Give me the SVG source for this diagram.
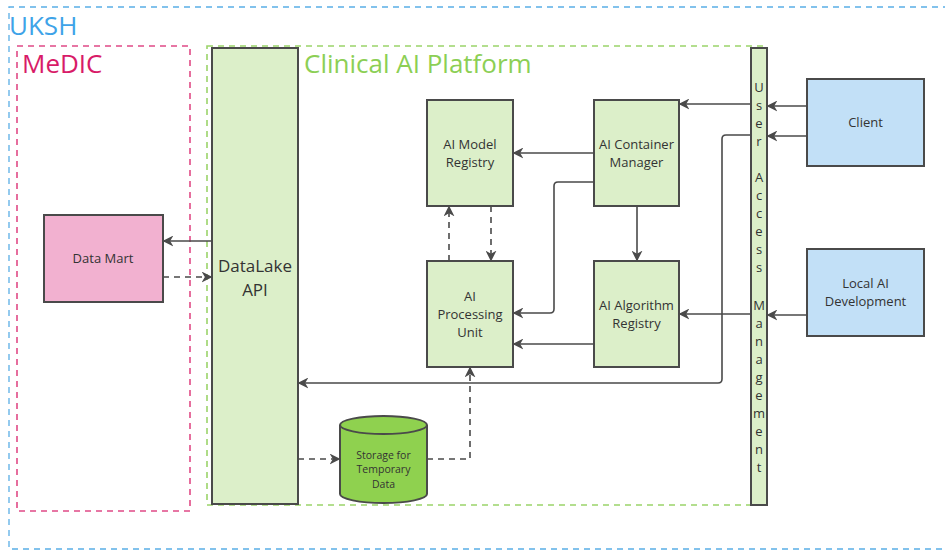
<svg xmlns="http://www.w3.org/2000/svg" width="945" height="551" viewBox="0 0 945 551">
<style>
text{font-family:"Open Sans","Noto Sans","Liberation Sans",sans-serif;fill:#333}
.node{stroke:#4a4a4a;stroke-width:2}
.green{fill:#dcefc9}
.blue{fill:#c2e0f7}
.pink{fill:#f2b1d0}
.lbl{font-size:13px;text-anchor:middle}
.conn{fill:none;stroke:#4a4a4a;stroke-width:1.6}
.dash{stroke-dasharray:6 5}
.title{font-size:26px}
.uam{font-size:13px;text-anchor:middle}
</style>
<defs>
<marker id="arr" viewBox="0 0 10 10" refX="9.5" refY="5" markerWidth="11" markerHeight="11" markerUnits="userSpaceOnUse" orient="auto">
<path d="M0,0 L10,5 L0,10 L3,5 z" fill="#4a4a4a"/>
</marker>
</defs>
<rect width="945" height="551" fill="#fff"/>
<g id="frame-uksh">
<path d="M960,7 H9 V549 H960" fill="none" stroke="#5aaee6" stroke-width="1.3" stroke-dasharray="6 5"/>
<text x="9" y="35" class="title" style="fill:#3ea3e8">UKSH</text>
</g>
<g id="frame-medic">
<rect x="17" y="46" width="173" height="465" fill="none" stroke="#e04a86" stroke-width="1.6" stroke-dasharray="6 5"/>
<text x="22" y="73" class="title" style="fill:#d81b68">MeDIC</text>
</g>
<g id="frame-platform">
<rect x="207" y="46" width="560" height="459" fill="none" stroke="#9bd46a" stroke-width="1.6" stroke-dasharray="6 5"/>
<text x="304" y="73" class="title" style="fill:#8ccf55">Clinical AI Platform</text>
</g>
<g id="datalake-api">
<rect x="212" y="48" width="86" height="456" class="node green"/>
<text x="255" y="272" style="font-size:17px;text-anchor:middle">DataLake</text>
<text x="255" y="296" style="font-size:17px;text-anchor:middle">API</text>
</g>
<g id="data-mart">
<rect x="44" y="215" width="119" height="87" class="node pink"/>
<text x="103" y="263" class="lbl">Data Mart</text>
</g>
<g id="ai-model-registry">
<rect x="427" y="100" width="86" height="106" class="node green"/>
<text x="470" y="149" class="lbl">AI Model</text>
<text x="470" y="167" class="lbl">Registry</text>
</g>
<g id="ai-container-manager">
<rect x="594" y="100" width="85" height="106" class="node green"/>
<text x="636.5" y="149" class="lbl">AI Container</text>
<text x="636.5" y="167" class="lbl">Manager</text>
</g>
<g id="ai-processing-unit">
<rect x="427" y="261" width="86" height="106" class="node green"/>
<text x="470" y="301" class="lbl">AI</text>
<text x="470" y="319" class="lbl">Processing</text>
<text x="470" y="337" class="lbl">Unit</text>
</g>
<g id="ai-algorithm-registry">
<rect x="594" y="261" width="85" height="106" class="node green"/>
<text x="636.5" y="310" class="lbl">AI Algorithm</text>
<text x="636.5" y="328" class="lbl">Registry</text>
</g>
<g id="storage">
<path d="M340,425 V494 A43.5,9 0 0 0 427,494 V425 A43.5,9 0 0 0 340,425 Z" fill="#8fd14f" stroke="#4a4a4a" stroke-width="2"/>
<path d="M340,425 A43.5,9 0 0 0 427,425" fill="none" stroke="#4a4a4a" stroke-width="2"/>
<text x="383.5" y="459" style="font-size:10.5px;text-anchor:middle">Storage for</text>
<text x="383.5" y="473" style="font-size:10.5px;text-anchor:middle">Temporary</text>
<text x="383.5" y="488" style="font-size:10.5px;text-anchor:middle">Data</text>
</g>
<g id="client">
<rect x="807" y="79" width="117" height="87" class="node blue"/>
<text x="865.5" y="127" class="lbl">Client</text>
</g>
<g id="local-ai-development">
<rect x="807" y="249" width="117" height="87" class="node blue"/>
<text x="865.5" y="288" class="lbl">Local AI</text>
<text x="865.5" y="306" class="lbl">Development</text>
</g>
<g id="connectors">
<path class="conn" d="M807,106 H767" marker-end="url(#arr)"/>
<path class="conn" d="M807,136 H767" marker-end="url(#arr)"/>
<path class="conn" d="M807,315 H767" marker-end="url(#arr)"/>
<path class="conn" d="M751,104 H679" marker-end="url(#arr)"/>
<path class="conn" d="M751,314 H679" marker-end="url(#arr)"/>
<path class="conn" d="M751,135 H726 Q722,135 722,139 V379 Q722,383 718,383 H298" marker-end="url(#arr)"/>
<path class="conn" d="M594,153 H513" marker-end="url(#arr)"/>
<path class="conn" d="M594,182 H558 Q554,182 554,186 V309 Q554,313 550,313 H513" marker-end="url(#arr)"/>
<path class="conn" d="M637,206 V261" marker-end="url(#arr)"/>
<path class="conn" d="M594,344 H513" marker-end="url(#arr)"/>
<path class="conn dash" d="M449,261 V206" marker-end="url(#arr)"/>
<path class="conn dash" d="M491,206 V261" marker-end="url(#arr)"/>
<path class="conn" d="M212,241 H163" marker-end="url(#arr)"/>
<path class="conn dash" d="M163,277 H212" marker-end="url(#arr)"/>
<path class="conn dash" d="M298,459 H340" marker-end="url(#arr)"/>
<path class="conn dash" d="M427,459 H470 V367" marker-end="url(#arr)"/>
</g>
<g id="user-access-management">
<rect x="751" y="48" width="16" height="457" class="node green"/>
<text class="uam" x="759" y="92">U</text>
<text class="uam" x="759" y="110">s</text>
<text class="uam" x="759" y="128">e</text>
<text class="uam" x="759" y="146">r</text>
<text class="uam" x="759" y="182">A</text>
<text class="uam" x="759" y="200">c</text>
<text class="uam" x="759" y="218">c</text>
<text class="uam" x="759" y="236">e</text>
<text class="uam" x="759" y="254">s</text>
<text class="uam" x="759" y="272">s</text>
<text class="uam" x="759" y="310">M</text>
<text class="uam" x="759" y="328">a</text>
<text class="uam" x="759" y="346">n</text>
<text class="uam" x="759" y="364">a</text>
<text class="uam" x="759" y="382">g</text>
<text class="uam" x="759" y="400">e</text>
<text class="uam" x="759" y="418">m</text>
<text class="uam" x="759" y="436">e</text>
<text class="uam" x="759" y="454">n</text>
<text class="uam" x="759" y="472">t</text>
</g>
</svg>
